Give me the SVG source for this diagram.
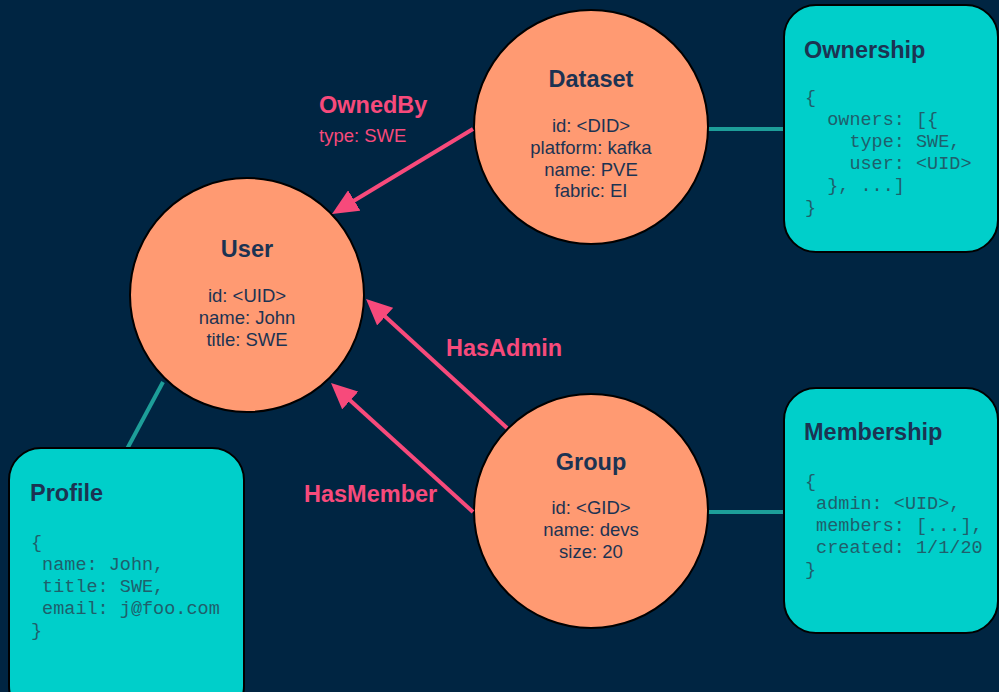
<svg xmlns="http://www.w3.org/2000/svg" width="999" height="692" viewBox="0 0 999 692">
<style>
.bg{fill:#002542}
.circ{fill:#ff9a72;stroke:#000;stroke-width:2}
.box{fill:#00cfca;stroke:#000;stroke-width:2}
.ttl{font-family:"Liberation Sans",Arial,sans-serif;font-weight:bold;font-size:23.5px;fill:#1c3352}
.txt{font-family:"Liberation Sans",Arial,sans-serif;font-size:18.5px;fill:#1c3352;text-anchor:middle}
.ctr{text-anchor:middle}
.mono{font-family:"Liberation Mono","Courier New",monospace;font-size:18.5px;fill:#1f5f6c;white-space:pre}
.elbl{font-family:"Liberation Sans",Arial,sans-serif;font-weight:bold;font-size:23.5px;fill:#f74a7b}
.esub{font-family:"Liberation Sans",Arial,sans-serif;font-size:18.5px;fill:#f74a7b}
.arrow{stroke:#f74a7b;stroke-width:4;fill:none;marker-end:url(#ah)}
.link{stroke:#1d9e99;stroke-width:4;fill:none}
</style>
<defs>
<marker id="ah" markerUnits="userSpaceOnUse" markerWidth="27" markerHeight="24" refX="16" refY="12" orient="auto" viewBox="0 0 27 24">
<path d="M0,0 L26,12 L0,24 z" fill="#f74a7b"/>
</marker>
</defs>
<rect class="bg" x="0" y="0" width="999" height="692"/>
<g id="links-under">
<line class="link" x1="708" y1="129" x2="784" y2="129"/>
<line class="link" x1="708" y1="512" x2="784" y2="512"/>
<line class="link" x1="163" y1="382" x2="127" y2="449"/>
</g>
<g id="node-user">
<circle class="circ" cx="247" cy="295" r="117"/>
<text class="ttl ctr" x="247" y="257">User</text>
<text class="txt" x="247" y="302">id: &lt;UID&gt;</text>
<text class="txt" x="247" y="324">name: John</text>
<text class="txt" x="247" y="346">title: SWE</text>
</g>
<g id="node-dataset">
<circle class="circ" cx="591" cy="127" r="117"/>
<text class="ttl ctr" x="591" y="87">Dataset</text>
<text class="txt" x="591" y="132">id: &lt;DID&gt;</text>
<text class="txt" x="591" y="154">platform: kafka</text>
<text class="txt" x="591" y="176">name: PVE</text>
<text class="txt" x="591" y="197">fabric: EI</text>
</g>
<g id="node-group">
<circle class="circ" cx="591" cy="511" r="117"/>
<text class="ttl ctr" x="591" y="470">Group</text>
<text class="txt" x="591" y="514">id: &lt;GID&gt;</text>
<text class="txt" x="591" y="536">name: devs</text>
<text class="txt" x="591" y="558">size: 20</text>
</g>
<g id="node-ownership">
<rect class="box" x="784" y="5" width="214" height="247" rx="32" ry="32"/>
<text class="ttl" x="804" y="58">Ownership</text>
<text class="mono" x="805" y="103" xml:space="preserve">{</text>
<text class="mono" x="805" y="125" xml:space="preserve">  owners: [{</text>
<text class="mono" x="805" y="147" xml:space="preserve">    type: SWE,</text>
<text class="mono" x="805" y="169" xml:space="preserve">    user: &lt;UID&gt;</text>
<text class="mono" x="805" y="191" xml:space="preserve">  }, ...]</text>
<text class="mono" x="805" y="213" xml:space="preserve">}</text>
</g>
<g id="node-membership">
<rect class="box" x="784" y="388" width="214" height="245" rx="32" ry="32"/>
<text class="ttl" x="804" y="440">Membership</text>
<text class="mono" x="805" y="487" xml:space="preserve">{</text>
<text class="mono" x="805" y="509" xml:space="preserve"> admin: &lt;UID&gt;,</text>
<text class="mono" x="805" y="531" xml:space="preserve"> members: [...],</text>
<text class="mono" x="805" y="553" xml:space="preserve"> created: 1/1/20</text>
<text class="mono" x="805" y="575" xml:space="preserve">}</text>
</g>
<g id="node-profile">
<rect class="box" x="9" y="448" width="235" height="270" rx="32" ry="32"/>
<text class="ttl" x="30" y="501">Profile</text>
<text class="mono" x="31" y="548" xml:space="preserve">{</text>
<text class="mono" x="31" y="570" xml:space="preserve"> name: John,</text>
<text class="mono" x="31" y="592" xml:space="preserve"> title: SWE,</text>
<text class="mono" x="31" y="614" xml:space="preserve"> email: j@foo.com</text>
<text class="mono" x="31" y="636" xml:space="preserve">}</text>
</g>
<g id="connectors">
<line class="arrow" x1="473" y1="129" x2="340.6" y2="208.8"/>
<line class="arrow" x1="507" y1="428" x2="373.4" y2="305.8"/>
<line class="arrow" x1="473" y1="512" x2="338.4" y2="389.7"/>
<text class="elbl" x="319" y="113">OwnedBy</text>
<text class="esub" x="319" y="142">type: SWE</text>
<text class="elbl" x="446" y="356">HasAdmin</text>
<text class="elbl" x="304" y="502">HasMember</text>
</g>
</svg>
